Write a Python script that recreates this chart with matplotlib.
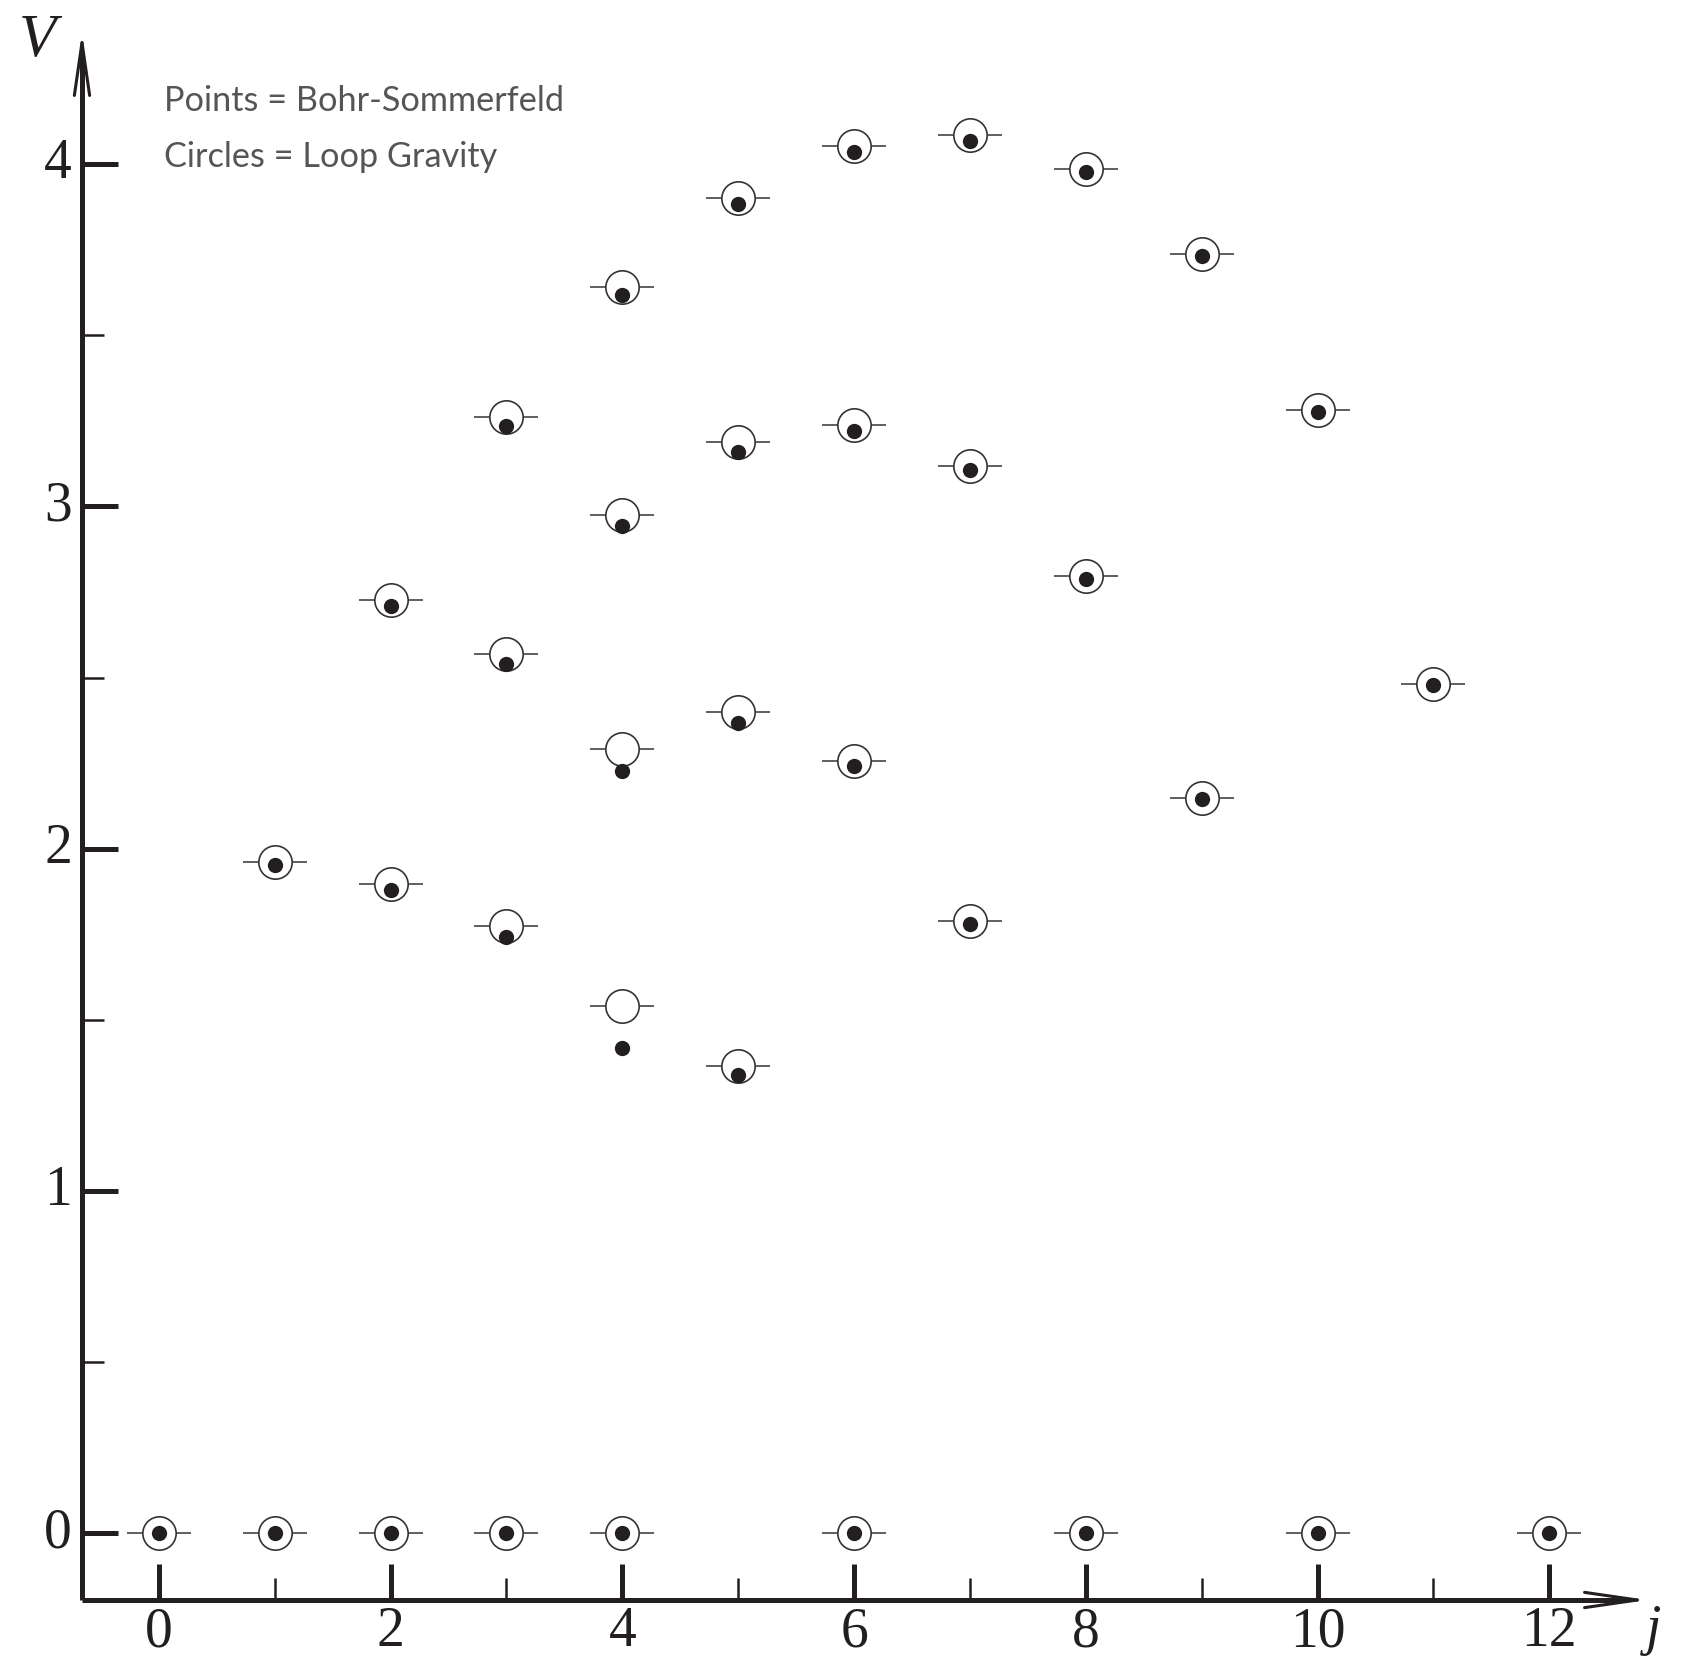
import matplotlib
matplotlib.use("Agg")
import matplotlib.pyplot as plt

# ---- data ----
j_vals = [0, 1, 2, 3, 4, 6, 8, 10, 12,
          1, 2, 2, 3, 3, 3, 4, 4, 4, 4,
          5, 5, 5, 5, 6, 6, 6, 7, 7, 7,
          8, 8, 9, 9, 10, 11]
V_loop = [0, 0, 0, 0, 0, 0, 0, 0, 0,
          1.961, 2.728, 1.897, 3.261, 2.570, 1.774, 3.640, 2.974, 2.292, 1.541,
          3.902, 3.189, 2.399, 1.364, 4.054, 3.239, 2.257, 4.085, 3.119, 1.790,
          3.987, 2.797, 3.738, 2.147, 3.283, 2.481]
V_bs = [0, 0, 0, 0, 0, 0, 0, 0, 0,
        1.951, 2.709, 1.878, 3.236, 2.541, 1.743, 3.618, 2.942, 2.226, 1.418,
        3.883, 3.160, 2.368, 1.339, 4.035, 3.220, 2.241, 4.069, 3.107, 1.781,
        3.978, 2.788, 3.732, 2.144, 3.277, 2.478]
x_major = [0, 2, 4, 6, 8, 10, 12]
x_minor = [1, 3, 5, 7, 9, 11]
y_major = [0, 1, 2, 3, 4]
y_minor = [0.5, 1.5, 2.5, 3.5]
legend_lines = ["Points = Bohr-Sommerfeld", "Circles = Loop Gravity"]

# ---- figure ----
W, H = 1694, 1660
fig = plt.figure(figsize=(W / 100, H / 100), dpi=100)
ax = fig.add_axes([0, 0, 1, 1])
ax.set_axis_off()
ux, x0px = 115.87, 158.8
uy, y0px = 342.2, 1533.1
xmin = -x0px / ux
xmax = xmin + W / ux
ymin = -(H - y0px) / uy
ymax = y0px / uy
ax.set_xlim(xmin, xmax)
ax.set_ylim(ymin, ymax)

def px2x(p):
    return xmin + p / ux

def px2y(p):
    return (y0px - p) / uy

ink = "#231f20"
ax_x = px2x(82)
ax_y = px2y(1600)
x_end = px2x(1648)
y_end = px2y(32)

# axis lines
ax.plot([ax_x, x_end - 0.2], [ax_y, ax_y], color=ink, lw=3.6, solid_capstyle="butt", zorder=3)
ax.plot([ax_x, ax_x], [ax_y, y_end - 0.08], color=ink, lw=3.6, solid_capstyle="butt", zorder=3)
ax.annotate("", xy=(x_end, ax_y), xytext=(x_end - 0.6, ax_y),
            arrowprops=dict(arrowstyle="->,head_length=3.8,head_width=0.55", lw=2.2, color=ink,
                            shrinkA=0, shrinkB=0))
ax.annotate("", xy=(ax_x, y_end), xytext=(ax_x, y_end - 0.3),
            arrowprops=dict(arrowstyle="->,head_length=3.8,head_width=0.55", lw=2.2, color=ink,
                            shrinkA=0, shrinkB=0))

# ticks
maj_len_y = 36 / ux
min_len_y = 22 / ux
for v in y_major:
    ax.plot([ax_x, ax_x + maj_len_y], [v, v], color=ink, lw=3.6, solid_capstyle="butt", zorder=3)
    ax.text(px2x(72), v, str(v), ha="right", va="center", fontsize=40,
            family="Liberation Serif", color=ink)
for v in y_minor:
    ax.plot([ax_x, ax_x + min_len_y], [v, v], color=ink, lw=1.8, solid_capstyle="butt", zorder=3)
maj_len_x = 36 / uy
min_len_x = 22 / uy
for v in x_major:
    ax.plot([v, v], [ax_y, ax_y + maj_len_x], color=ink, lw=3.6, solid_capstyle="butt", zorder=3)
    ax.text(v, px2y(1646), str(v), ha="center", va="baseline", fontsize=40,
            family="Liberation Serif", color=ink)
for v in x_minor:
    ax.plot([v, v], [ax_y, ax_y + min_len_x], color=ink, lw=1.8, solid_capstyle="butt", zorder=3)

# axis labels
ax.text(px2x(38), px2y(41), "V", ha="center", va="center", fontsize=44,
        family="Liberation Serif", style="italic", color=ink)
ax.text(px2x(1654), px2y(1644), "j", ha="center", va="baseline", fontsize=40,
        family="Liberation Serif", style="italic", color=ink)

# data marks
half = 32 / ux
ax.hlines(V_loop, [j - half for j in j_vals], [j + half for j in j_vals],
          color="#444444", lw=1.2, zorder=4)
ax.plot(j_vals, V_loop, linestyle="none", marker="o", markersize=24,
        markerfacecolor="white", markeredgecolor="#333333", markeredgewidth=1.2, zorder=5)
ax.plot(j_vals, V_bs, linestyle="none", marker="o", markersize=11,
        markerfacecolor=ink, markeredgecolor=ink, markeredgewidth=0, zorder=6)

# legend text
ax.text(px2x(164), px2y(111), legend_lines[0], ha="left", va="baseline",
        fontsize=24.7, family="Lato", color="#555555")
ax.text(px2x(164), px2y(167), legend_lines[1], ha="left", va="baseline",
        fontsize=24.7, family="Lato", color="#555555")

fig.savefig("out.png", dpi=100)
